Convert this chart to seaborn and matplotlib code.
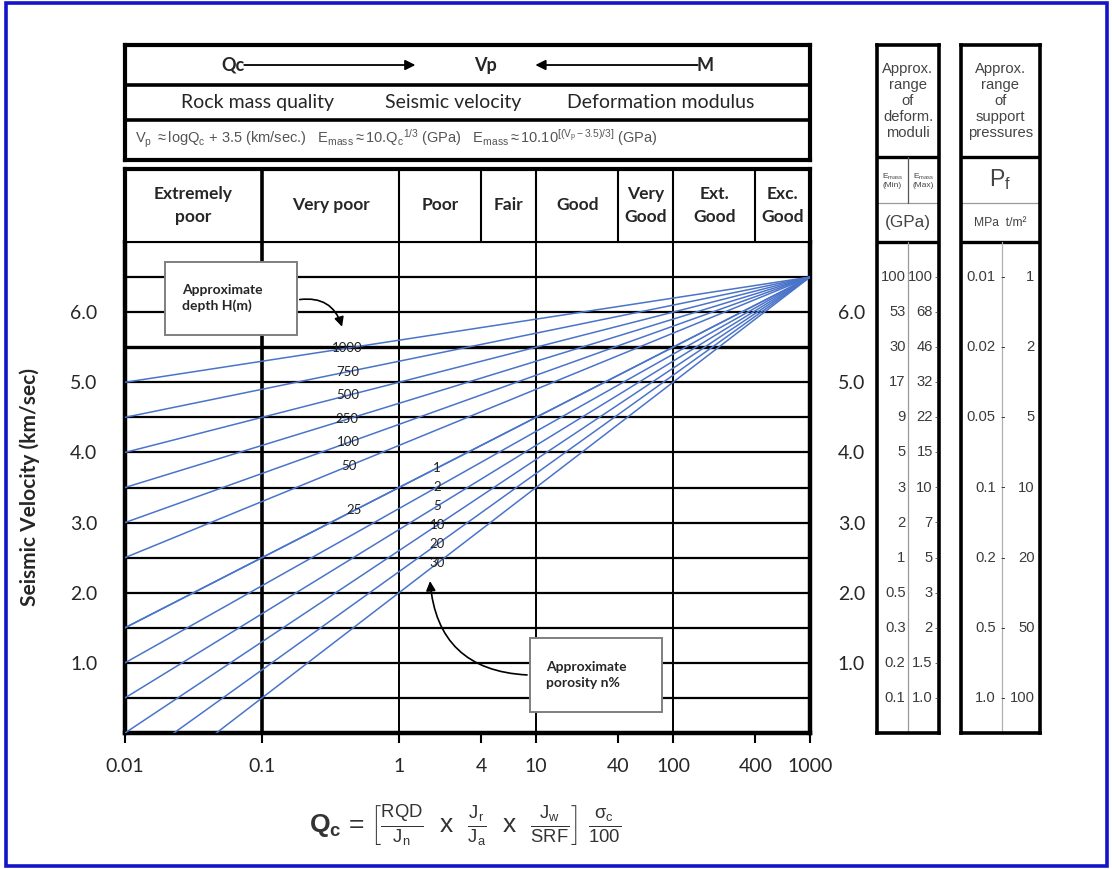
import numpy as np
import pandas as pd
import matplotlib
matplotlib.use('Agg')
import matplotlib.pyplot as plt
from matplotlib.patches import Rectangle
from matplotlib.ticker import NullLocator
from matplotlib import font_manager as fm
import seaborn as sns

#%% data
q_ends = [0.01, 1000]
vp_focus = 6.5                     # all lines meet at Qc = 1000, Vp = 6.5
depth_m = [1000, 750, 500, 250, 100, 50, 25]
depth_vp_start = [5.0, 4.5, 4.0, 3.5, 3.0, 2.5, 1.5]     # Vp at Qc = 0.01
depth_label_q = [0.42, 0.42, 0.42, 0.42, 0.43, 0.43, 0.47]
porosity_pct = [1, 2, 5, 10, 20, 30]
porosity_vp_start = [1.5, 1.0, 0.5, 0.0, -0.5, -1.0]
porosity_label_q = [1.9, 1.9, 1.9, 1.9, 1.9, 1.9]

quality_bounds = [0.01, 0.1, 1, 4, 10, 40, 100, 400, 1000]
quality_names = ['Extremely\npoor', 'Very poor', 'Poor', 'Fair', 'Good',
                 'Very\nGood', 'Ext.\nGood', 'Exc.\nGood']
x_ticks = [0.01, 0.1, 1, 4, 10, 40, 100, 400, 1000]
x_labels = ['0.01', '0.1', '1', '4', '10', '40', '100', '400', '1000']
y_ticks = [1.0, 2.0, 3.0, 4.0, 5.0, 6.0]
grid_vp = [0.5, 1.0, 1.5, 2.0, 2.5, 3.0, 3.5, 4.0, 4.5, 5.0, 5.5, 6.0, 6.5]
grid_q = [0.1, 1, 10, 100]

emass_vp = [6.5, 6.0, 5.5, 5.0, 4.5, 4.0, 3.5, 3.0, 2.5, 2.0, 1.5, 1.0, 0.5]
emass_min = ['100', '53', '30', '17', '9', '5', '3', '2', '1', '0.5', '0.3', '0.2', '0.1']
emass_max = ['100', '68', '46', '32', '22', '15', '10', '7', '5', '3', '2', '1.5', '1.0']
pf_vp = [6.5, 5.5, 4.5, 3.5, 2.5, 1.5, 0.5]
pf_mpa = ['0.01', '0.02', '0.05', '0.1', '0.2', '0.5', '1.0']
pf_tm2 = ['1', '2', '5', '10', '20', '50', '100']

#%% style
sns.set_theme(style='white')
plt.rcParams['font.family'] = ['Lato', 'DejaVu Sans']
plt.rcParams['mathtext.fontset'] = 'custom'
plt.rcParams['mathtext.rm'] = 'Liberation Sans'
plt.rcParams['mathtext.it'] = 'Liberation Sans:italic'
plt.rcParams['mathtext.bf'] = 'Liberation Sans:bold'
names = {f.name for f in fm.fontManager.ttflist}
narrow = 'Liberation Sans Narrow' if 'Liberation Sans Narrow' in names else 'Liberation Sans'
nscale = 1.1 if narrow == 'Liberation Sans Narrow' else 0.92
grey = '#3a3a3a'
blue = '#4a74c9'

W, H = 1112, 869
def box(x0, y0, x1, y1):
    return [x0 / W, 1 - y1 / H, (x1 - x0) / W, (y1 - y0) / H]

fig = plt.figure(figsize=(W / 100, H / 100), dpi=100)
fig.patch.set_facecolor('white')

#%% main chart
ax = fig.add_axes(box(125, 242, 810, 733))
rows = []
for lab, v0 in zip(['H%d' % d for d in depth_m] + ['n%d' % n for n in porosity_pct],
                   depth_vp_start + porosity_vp_start):
    rows.append({'line': lab, 'q': q_ends[0], 'vp': v0})
    rows.append({'line': lab, 'q': q_ends[1], 'vp': vp_focus})
lines = pd.DataFrame(rows)
sns.lineplot(data=lines, x='q', y='vp', units='line', estimator=None,
             color=blue, lw=1.1, ax=ax, legend=False, zorder=3)
ax.set_xscale('log')
ax.set_xlim(0.01, 1000)
ax.set_ylim(0, 7)

for v in grid_vp:
    ax.axhline(v, color='black', lw=2.4 if v == 5.5 else 1.6, zorder=2)
for q in grid_q:
    ax.axvline(q, color='black', lw=2.6 if q == 0.1 else 1.4, zorder=2)

def vp_on_line(v0, q):
    return v0 + (vp_focus - v0) * (np.log10(q) + 2) / 5

for d, v0, q in zip(depth_m, depth_vp_start, depth_label_q):
    ax.text(q, vp_on_line(v0, q), str(d), fontsize=9.5, color='#222222',
            ha='center', va='center', zorder=4)
for n, v0, q in zip(porosity_pct, porosity_vp_start, porosity_label_q):
    ax.text(q, vp_on_line(v0, q), str(n), fontsize=9.5, color='#222222',
            ha='center', va='center', zorder=4)

# annotation boxes
ax.add_patch(Rectangle((0.058, 0.811), 0.193, 0.148, transform=ax.transAxes,
                       fc='white', ec='#7f7f7f', lw=1.4, zorder=5))
ax.text(0.083, 0.886, 'Approximate\ndepth H(m)', transform=ax.transAxes,
        fontsize=10, fontweight='bold', ha='left', va='center', linespacing=1.4, zorder=6)
ax.annotate('', xy=(0.318, 0.822), xytext=(0.251, 0.882), xycoords='axes fraction',
            arrowprops=dict(arrowstyle='-|>', color='black', lw=1.2,
                            connectionstyle='arc3,rad=-0.45', mutation_scale=14), zorder=6)
ax.add_patch(Rectangle((0.591, 0.043), 0.193, 0.150, transform=ax.transAxes,
                       fc='white', ec='#7f7f7f', lw=1.4, zorder=5))
ax.text(0.615, 0.118, 'Approximate\nporosity n%', transform=ax.transAxes,
        fontsize=10, fontweight='bold', ha='left', va='center', linespacing=1.4, zorder=6)
ax.annotate('', xy=(0.445, 0.315), xytext=(0.591, 0.118), xycoords='axes fraction',
            arrowprops=dict(arrowstyle='-|>', color='black', lw=1.2,
                            connectionstyle='arc3,rad=-0.45', mutation_scale=14), zorder=6)

ax.set_xticks(x_ticks)
ax.set_xticklabels(x_labels)
ax.xaxis.set_minor_locator(NullLocator())
ax.set_yticks(y_ticks)
ax.set_yticklabels(['%.1f' % v for v in y_ticks])
ax.tick_params(axis='x', bottom=True, length=7, width=1.5, pad=11, labelsize=14, color='black')
ax.tick_params(axis='y', left=False, right=False, labelleft=True, labelright=True,
               pad=14, labelsize=14)
ax.set_xlabel('')
ax.set_ylabel('Seismic Velocity (km/sec)', fontsize=15, fontweight='bold')
ax.yaxis.set_label_coords(-85 / 685, 0.5)
for side in ['left', 'bottom', 'right']:
    ax.spines[side].set_linewidth(3.2)
    ax.spines[side].set_color('black')
ax.spines['top'].set_linewidth(1.5)
ax.spines['top'].set_color('black')

#%% quality class row
ax_cat = fig.add_axes(box(125, 169, 810, 242))
ax_cat.set_xscale('log')
ax_cat.set_xlim(0.01, 1000)
ax_cat.set_ylim(0, 1)
for b in quality_bounds[1:-1]:
    ax_cat.axvline(b, color='black', lw=2.6 if b == 0.1 else 1.5)
for lo, hi, name in zip(quality_bounds[:-1], quality_bounds[1:], quality_names):
    ax_cat.text(np.sqrt(lo * hi), 0.5, name, ha='center', va='center',
                fontsize=12.5, fontweight='bold', linespacing=1.55)
ax_cat.set_xticks([])
ax_cat.set_yticks([])
ax_cat.xaxis.set_minor_locator(NullLocator())
for s in ax_cat.spines.values():
    s.set_linewidth(3)
    s.set_color('black')
ax_cat.spines['bottom'].set_linewidth(1.5)

#%% header box
ax_h = fig.add_axes(box(125, 45, 810, 160))
ax_h.set_xlim(0, 1)
ax_h.set_ylim(0, 1)
ax_h.axhline(0.652, color='black', lw=2.6)
ax_h.axhline(0.348, color='black', lw=2.6)
ax_h.text(0.158, 0.826, 'Qc', fontsize=13, fontweight='bold', ha='center', va='center')
ax_h.text(0.526, 0.826, 'Vp', fontsize=13, fontweight='bold', ha='center', va='center')
ax_h.text(0.847, 0.826, 'M', fontsize=13, fontweight='bold', ha='center', va='center')
ax_h.annotate('', xy=(0.428, 0.826), xytext=(0.17, 0.826),
              arrowprops=dict(arrowstyle='-|>', color='black', lw=1.3, mutation_scale=15))
ax_h.annotate('', xy=(0.595, 0.826), xytext=(0.84, 0.826),
              arrowprops=dict(arrowstyle='-|>', color='black', lw=1.3, mutation_scale=15))
ax_h.text(0.193, 0.504, 'Rock mass quality', fontsize=14, ha='center', va='center')
ax_h.text(0.479, 0.504, 'Seismic velocity', fontsize=14, ha='center', va='center')
ax_h.text(0.782, 0.504, 'Deformation modulus', fontsize=14, ha='center', va='center')
ax_h.text(0.015, 0.18,
          r'V$_\mathrm{p}$ $\approx$logQ$_\mathrm{c}$ + 3.5 (km/sec.)   '
          r'E$_\mathrm{mass}$$\approx$10.Q$_\mathrm{c}$$^\mathrm{1/3}$ (GPa)   '
          r'E$_\mathrm{mass}$$\approx$10.10$^{[(\mathrm{V_p}-3.5)/3]}$ (GPa)',
          fontsize=10.5, color='#555555', family='Liberation Sans', ha='left', va='center')
ax_h.set_xticks([])
ax_h.set_yticks([])
for s in ax_h.spines.values():
    s.set_linewidth(3)
    s.set_color('black')

#%% right hand columns (share the Vp scale of the main chart)
vpx = 491 / 7
ytop = (733 - 45) / vpx
y_sub = (733 - 157) / vpx
y_mid = (733 - 203) / vpx

def column(x0, x1, title):
    c = fig.add_axes(box(x0, 45, x1, 733))
    c.set_xlim(0, 1)
    c.set_ylim(0, ytop)
    c.axhline(y_sub, color='black', lw=2.4)
    c.axhline(7.0, color='black', lw=2.4)
    c.axhline(y_mid, color='#9a9a9a', lw=0.9)
    c.text(0.5, (ytop + y_sub) / 2, title, ha='center', va='center', family=narrow,
           fontsize=11.5 * nscale, color='#444444', linespacing=1.2)
    c.set_xticks([])
    c.set_yticks([])
    for s in c.spines.values():
        s.set_linewidth(2.6)
        s.set_color('black')
    return c

c1 = column(877, 939, 'Approx.\nrange\nof\ndeform.\nmoduli')
c1.plot([0.5, 0.5], [0, 7.0], color='#9a9a9a', lw=0.9)
c1.plot([0.5, 0.5], [y_mid, y_sub], color='#555555', lw=0.9)
for xc, tag in [(0.25, 'Min'), (0.75, 'Max')]:
    c1.text(xc, (y_sub + y_mid) / 2, r'E$_\mathrm{mass}$' + '\n(%s)' % tag, ha='center',
            va='center', fontsize=6, color='#444444', family='Liberation Sans', linespacing=1.0)
c1.text(0.5, (y_mid + 7.0) / 2, '(GPa)', ha='center', va='center', family=narrow,
        fontsize=13.5 * nscale, color='#444444')
for v, lo, hi in zip(emass_vp, emass_min, emass_max):
    c1.text(0.46, v, lo, ha='right', va='center', family=narrow, fontsize=11.5 * nscale, color=grey)
    c1.text(0.90, v, hi, ha='right', va='center', family=narrow, fontsize=11.5 * nscale, color=grey)
    c1.text(0.955, v, '-', ha='center', va='center', family=narrow, fontsize=9 * nscale, color=grey)

c2 = column(961, 1040, 'Approx.\nrange\nof\nsupport\npressures')
c2.plot([0.525, 0.525], [0, 7.0], color='#b0b0b0', lw=0.9)
c2.text(0.5, (y_sub + y_mid) / 2, r'P$_\mathrm{f}$', ha='center', va='center',
        family=narrow, fontsize=18 * nscale, color='#444444')
c2.text(0.5, (y_mid + 7.0) / 2, 'MPa  t/m²', ha='center', va='center', family=narrow,
        fontsize=9.5 * nscale, color='#444444')
for v, a, b in zip(pf_vp, pf_mpa, pf_tm2):
    c2.text(0.44, v, a, ha='right', va='center', family=narrow, fontsize=11.5 * nscale, color=grey)
    c2.text(0.525, v, '-', ha='center', va='center', family=narrow, fontsize=11 * nscale, color=grey)
    c2.text(0.93, v, b, ha='right', va='center', family=narrow, fontsize=11.5 * nscale, color=grey)

#%% Qc definition below the x axis
fig.text(465 / W, 1 - 826 / H,
         r'$\mathbf{Q_c}$ = $\left[\frac{\mathrm{RQD}}{\mathrm{J_n}}\ \ \mathrm{x}\ \ '
         r'\frac{\mathrm{J_r}}{\mathrm{J_a}}\ \ \mathrm{x}\ \ \frac{\mathrm{J_w}}{\mathrm{SRF}}\right]'
         r'\ \frac{\mathrm{\sigma_c}}{100}$',
         fontsize=19, ha='center', va='center', family='Liberation Sans', color='#333333')

# blue page frame
fig.add_artist(Rectangle((6 / W, 3 / H), 1101 / W, 863 / H, transform=fig.transFigure,
                         fill=False, ec='#1414c8', lw=2.6))

fig.savefig('out.png', dpi=100, facecolor='white')
